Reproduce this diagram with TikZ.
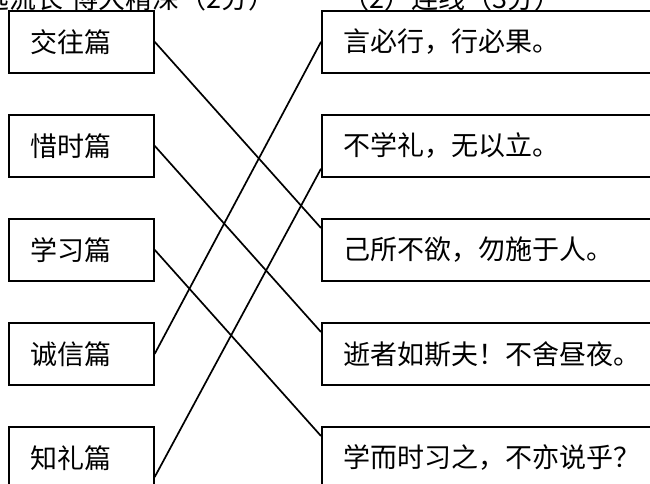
\documentclass[tikz,border=0pt]{standalone}
\usepackage{fontspec}
\newfontfamily\cjk{Noto Sans CJK SC}
\begin{document}
\begin{tikzpicture}[x=1pt,y=-1pt,
  font=\cjk\fontsize{27}{32}\selectfont,
  lbox/.style={draw, line width=1.7pt, anchor=north west, minimum height=62pt,
    text width=101pt, inner xsep=22pt, inner ysep=0pt, align=left},
  rbox/.style={draw, line width=1.7pt, anchor=north west, minimum height=62pt,
    text width=336pt, inner xsep=22pt, inner ysep=0pt, align=left},
  link/.style={line width=1.7pt},
  title/.style={inner sep=0pt, anchor=base east}]
\useasboundingbox (0,0) rectangle (650,484);
\clip (0,0) rectangle (650,484);
\fill[white] (0,0) rectangle (650,484);
% title line (cut off at top, as in the reference)
\node[title] (t1) at (276,9) {源远流长\hspace{8pt}博大精深（2分）};
\node[title] (t2) at (562,9) {（2）连线（3分）};
% left boxes
\node[lbox] (L1) at (8,10)  {交往篇};
\node[lbox] (L2) at (8,114) {惜时篇};
\node[lbox] (L3) at (8,218) {学习篇};
\node[lbox] (L4) at (8,322) {诚信篇};
\node[lbox] (L5) at (8,426) {知礼篇};
% right boxes
\node[rbox] (R1) at (321,10)  {言必行，行必果。};
\node[rbox] (R2) at (321,114) {不学礼，无以立。};
\node[rbox] (R3) at (321,218) {己所不欲，勿施于人。};
\node[rbox] (R4) at (321,322) {逝者如斯夫！不舍昼夜。};
\node[rbox] (R5) at (321,426) {学而时习之，不亦说乎？};
% connectors
\draw[link] (L1.east) -- ([yshift=-10pt]R3.north west);
\draw[link] (L2.east) -- ([yshift=-10pt]R4.north west);
\draw[link] (L3.east) -- ([yshift=-10pt]R5.north west);
\draw[link] (L4.east) -- (R1.west);
\draw[link] ([yshift=-51pt]L5.north east) -- ([yshift=9pt]R2.south west);
\end{tikzpicture}
\end{document}
